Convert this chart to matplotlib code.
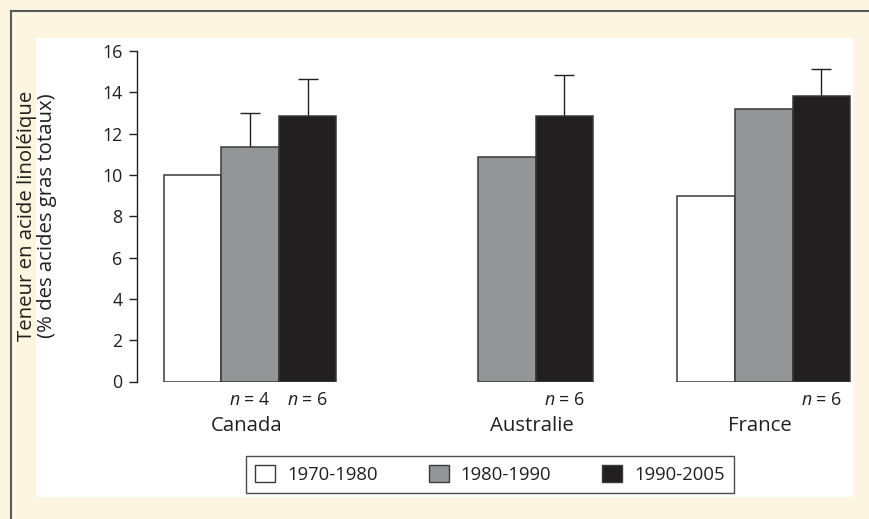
import matplotlib
matplotlib.use("Agg")
import matplotlib.pyplot as plt
from matplotlib.patches import Rectangle, Patch
from matplotlib.lines import Line2D
import numpy as np

plt.rcParams["font.family"] = ["Open Sans", "DejaVu Sans"]
plt.rcParams["mathtext.fontset"] = "custom"
plt.rcParams["mathtext.it"] = "Open Sans:italic"
plt.rcParams["mathtext.rm"] = "Open Sans"

# Données
countries = ["Canada", "Australie", "France"]
periods = ["1970-1980", "1980-1990", "1990-2005"]
v_1970 = [10.0, np.nan, 9.0]
v_1980 = [11.33, 10.87, 13.2]
v_1990 = [12.84, 12.85, 13.83]
err_1980 = [1.67, np.nan, np.nan]
err_1990 = [1.82, 2.0, 1.32]
n_1980 = ["4", "", ""]
n_1990 = ["6", "6", "6"]

cream = "#FCF5DF"
fills = ["white", "#939598", "#231F20"]
edge = "#3a3a3a"
ink = "#231F20"

fig = plt.figure(figsize=(8.69, 5.19), dpi=100, facecolor=cream)

# Panneau blanc et cadre
fig.add_artist(Rectangle((36 / 869, 22 / 519), 817 / 869, 459 / 519,
                         transform=fig.transFigure, facecolor="white",
                         edgecolor="none", zorder=0))
fig.add_artist(Line2D([11 / 869, 1], [508 / 519, 508 / 519],
                      transform=fig.transFigure, color="#58595B", lw=1.5))
fig.add_artist(Line2D([11 / 869, 11 / 869], [0, 508 / 519],
                      transform=fig.transFigure, color="#58595B", lw=1.5))

ax = fig.add_axes([137 / 869, 137.5 / 519, 718 / 869, 330.5 / 519])
ax.set_facecolor("none")

x = np.arange(len(countries))
w = 0.224
series = [v_1970, v_1980, v_1990]
for i, vals in enumerate(series):
    ax.bar(x + (i - 1) * w, vals, w, color=fills[i], edgecolor=edge,
           linewidth=1.1, zorder=2)

# Barres d'erreur (vers le haut seulement)
cap = 0.039
for i, (vals, errs) in enumerate([(v_1980, err_1980), (v_1990, err_1990)]):
    xs = x + i * w
    for xi, v, e in zip(xs, vals, errs):
        if np.isnan(e):
            continue
        ax.vlines(xi, v, v + e, color=ink, lw=1.0, zorder=1)
        ax.hlines(v + e, xi - cap, xi + cap, color=ink, lw=1.0, zorder=1)

# Effectifs sous les barres
for i, ns in enumerate([n_1980, n_1990]):
    for xi, n in zip(x + i * w, ns):
        if n:
            ax.text(xi, -0.45, f"$n$ = {n}", ha="center", va="top",
                    fontsize=12.8, color=ink)

# Noms de pays centrés sous les barres présentes
for k, name in enumerate(countries):
    present = [x[k] + (i - 1) * w for i, s in enumerate(series) if not np.isnan(s[k])]
    cx = (min(present) + max(present)) / 2
    ax.text(cx - 0.015, -1.65, name, ha="center", va="top", fontsize=14.7,
            color=ink)

ax.set_xlim(-0.44, 2.355)
ax.set_ylim(0, 16)
ax.set_yticks(range(0, 17, 2))
ax.set_xticks([])
for s in ["top", "right", "bottom"]:
    ax.spines[s].set_visible(False)
ax.spines["left"].set_color(ink)
ax.spines["left"].set_linewidth(1.0)
ax.tick_params(axis="y", length=5.5, width=1.0, pad=5, labelsize=12.8,
               colors=ink)

fig.text(37 / 869, 1 - 216 / 519,
         "Teneur en acide linoléique\n(% des acides gras totaux)",
         rotation=90, ha="center", va="center", multialignment="center",
         fontsize=14.7, color=ink, linespacing=1.0)

handles = [Patch(facecolor=fills[i], edgecolor=edge, linewidth=1.0)
           for i in range(3)]
leg = fig.legend(handles, periods, loc="center", ncol=3,
                 bbox_to_anchor=(490 / 869, 44.5 / 519), fontsize=13.3,
                 frameon=True, fancybox=False, edgecolor=ink,
                 handlelength=1.08, handleheight=1.08, handletextpad=0.65,
                 columnspacing=2.75, borderpad=0.5)
leg.get_frame().set_linewidth(1.0)
for t in leg.get_texts():
    t.set_color(ink)

fig.savefig("out.png", dpi=100, facecolor=cream)
